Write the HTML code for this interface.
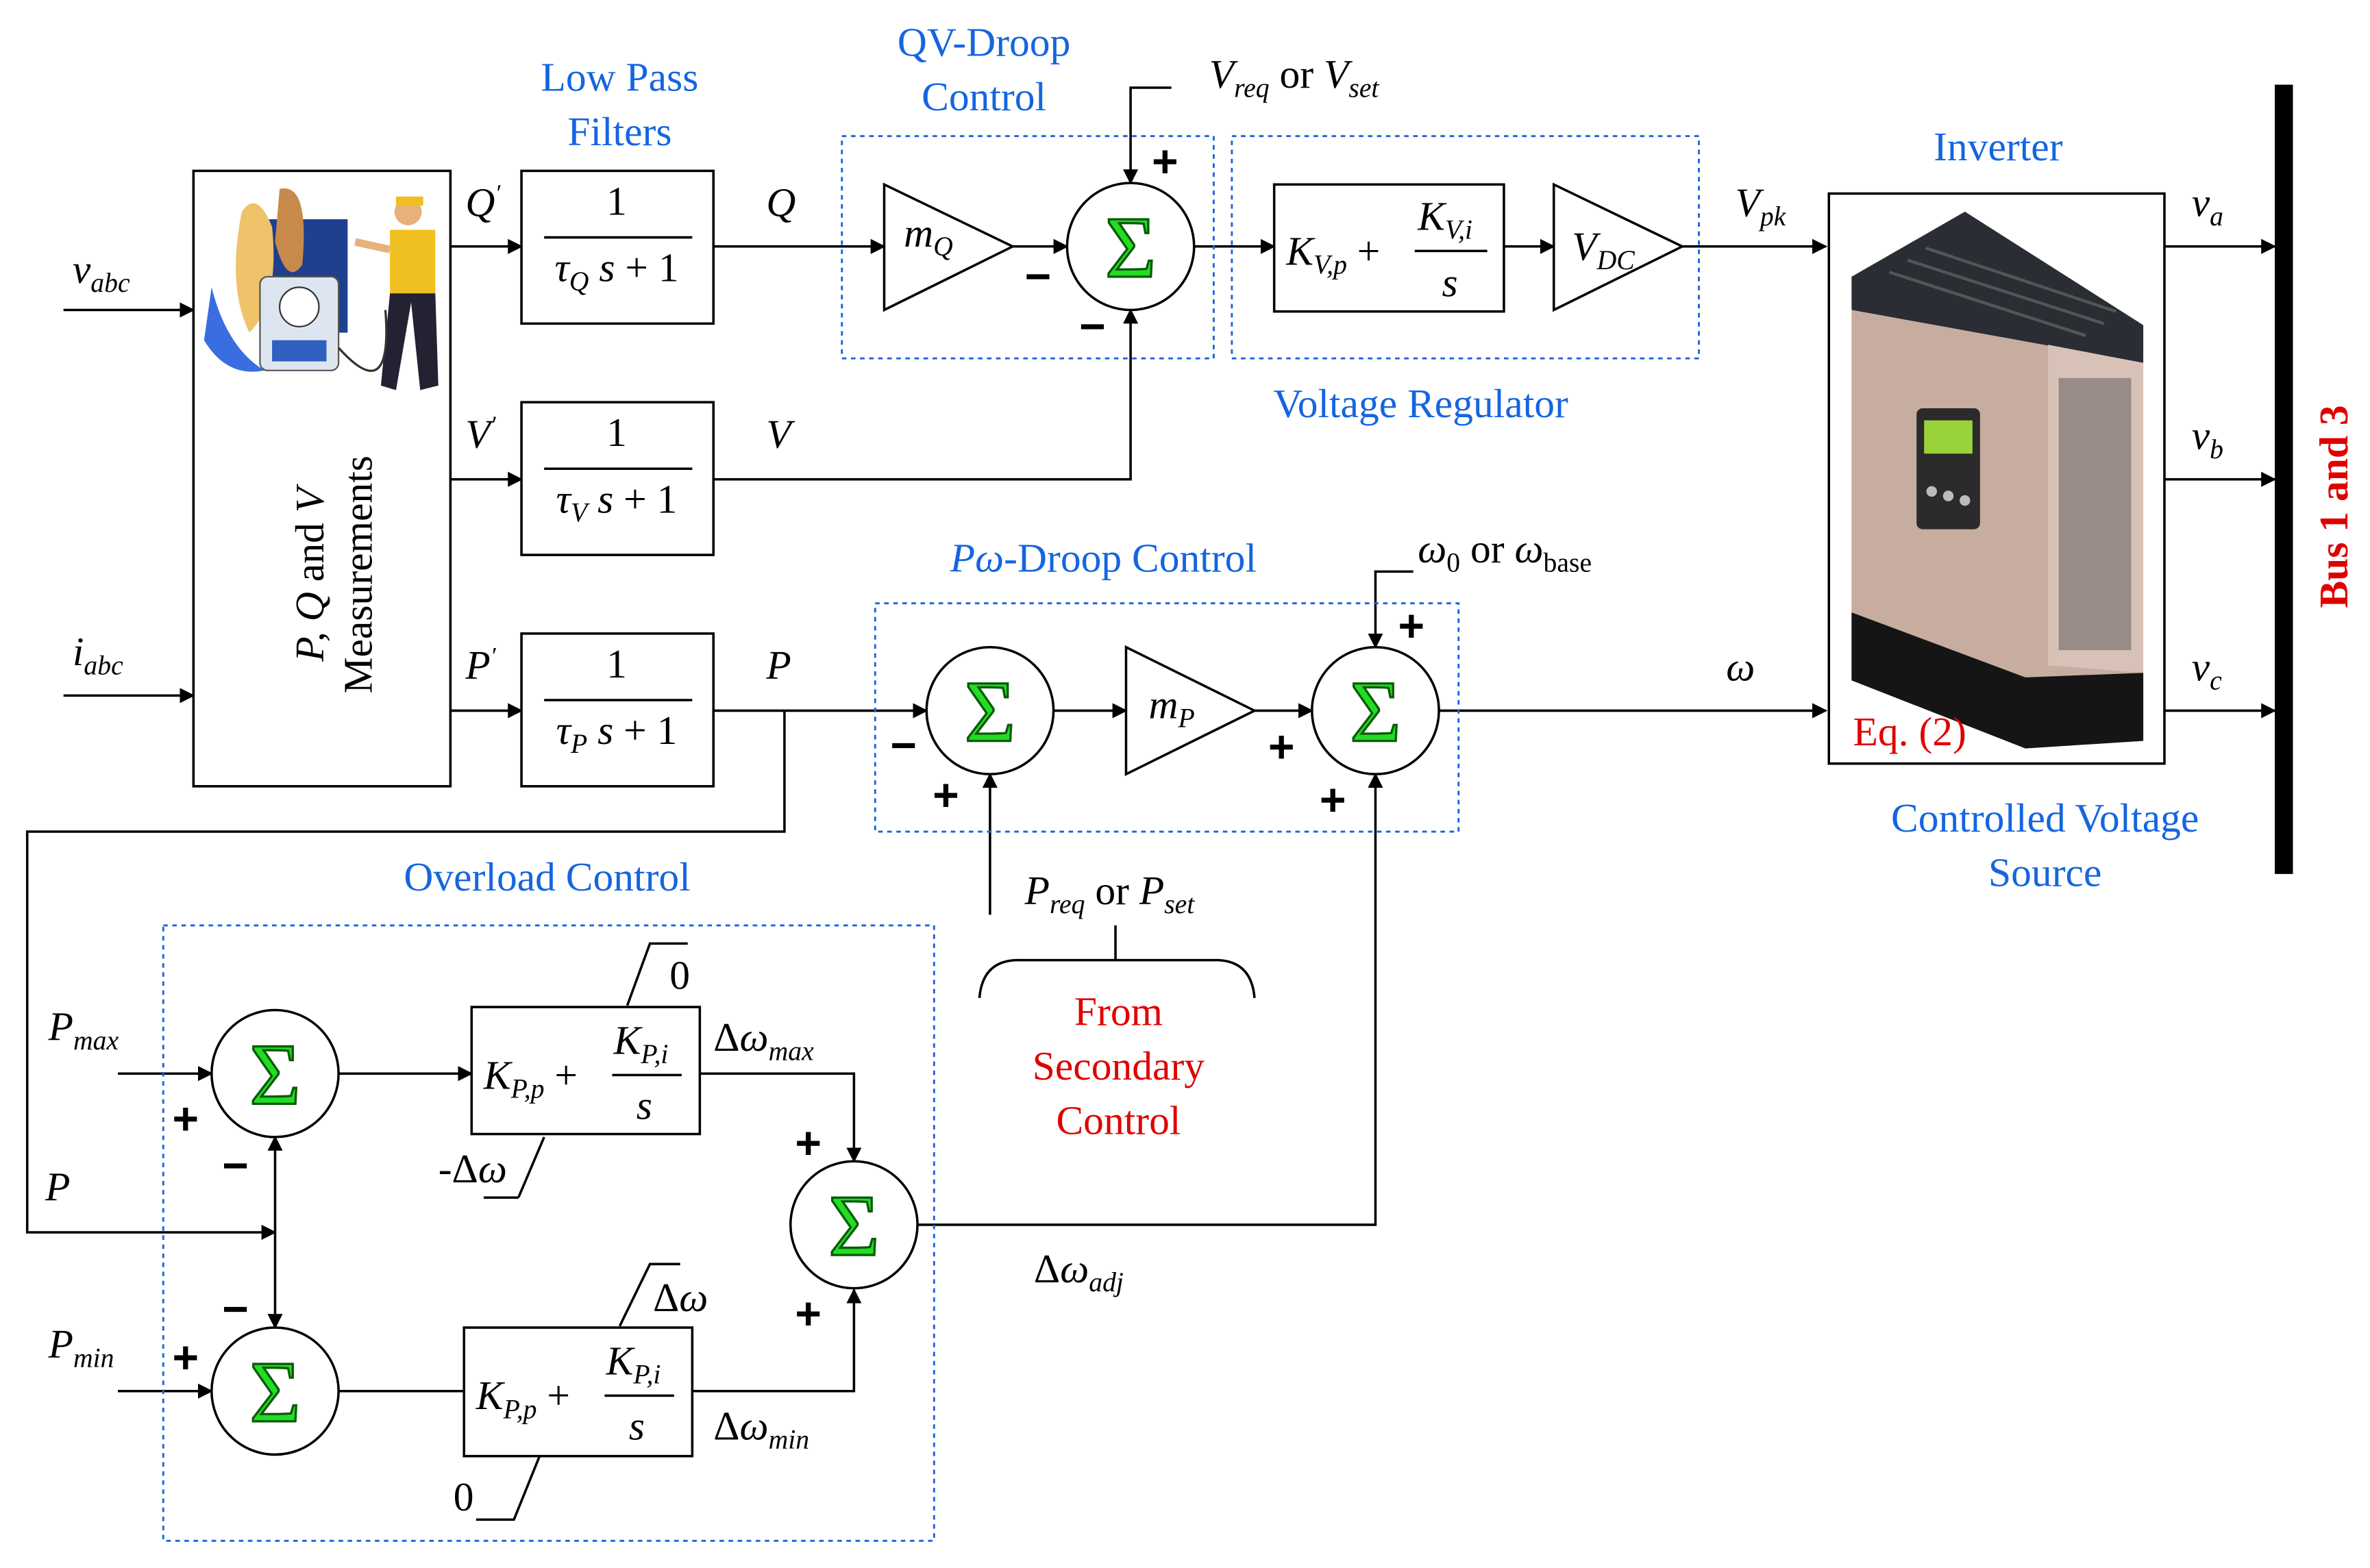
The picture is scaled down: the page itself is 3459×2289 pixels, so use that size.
<!DOCTYPE html>
<html><head><meta charset="utf-8"><style>
html,body{margin:0;padding:0;background:#fff;}
svg{display:block;}
text{font-family:"Liberation Serif",serif;}
.b{fill:#1565e0;font-size:27px;}
.r{fill:#e00000;font-size:27px;}
.t{font-size:27px;fill:#000;}
.i{font-style:italic;}
.s{font-size:18px;}
.sg{font-family:"Liberation Sans",sans-serif;font-size:30px;font-weight:bold;fill:#000;}
</style></head><body>
<svg width="3459" height="2289" viewBox="0 0 1568 1037" preserveAspectRatio="none" xmlns="http://www.w3.org/2000/svg">
<defs>
<marker id="a" markerWidth="10" markerHeight="10" refX="9" refY="5" orient="auto" markerUnits="userSpaceOnUse" viewBox="0 0 10 10"><path d="M0,0 L10,5 L0,10 z" fill="#000"/></marker>
<g id="sig"><circle r="42" fill="#fff" stroke="#000" stroke-width="1.6"/><text x="0" y="20" text-anchor="middle" font-family="Liberation Serif,serif" font-size="58" fill="#22dd22" stroke="#0a5a0a" stroke-width="1.5">Σ</text></g>
</defs>
<g fill="none" stroke="#000" stroke-width="1.6">
<rect x="128" y="113" width="170" height="407"/>
<line x1="42" y1="205" x2="128" y2="205" marker-end="url(#a)"/>
<line x1="42" y1="460" x2="128" y2="460" marker-end="url(#a)"/>
<rect x="345" y="113" width="127" height="101"/>
<rect x="345" y="266" width="127" height="101"/>
<rect x="345" y="419" width="127" height="101"/>
<line x1="360" y1="157" x2="458" y2="157"/><line x1="360" y1="310" x2="458" y2="310"/><line x1="360" y1="463" x2="458" y2="463"/>
<line x1="298" y1="163" x2="345" y2="163" marker-end="url(#a)"/>
<line x1="298" y1="317" x2="345" y2="317" marker-end="url(#a)"/>
<line x1="298" y1="470" x2="345" y2="470" marker-end="url(#a)"/>
<line x1="472" y1="163" x2="585" y2="163" marker-end="url(#a)"/>
<polygon points="585,122 670,163 585,205"/>
<line x1="670" y1="163" x2="706" y2="163" marker-end="url(#a)"/>
<polyline points="472,317 748,317 748,205" marker-end="url(#a)"/>
<polyline points="775,58 748,58 748,121" marker-end="url(#a)"/>
<line x1="790" y1="163" x2="843" y2="163" marker-end="url(#a)"/>
<rect x="843" y="122" width="152" height="84"/>
<line x1="936" y1="166" x2="984" y2="166"/>
<line x1="995" y1="163" x2="1028" y2="163" marker-end="url(#a)"/>
<polygon points="1028,122 1113,163 1028,205"/>
<line x1="1113" y1="163" x2="1208" y2="163" marker-end="url(#a)"/>
<rect x="1210" y="128" width="222" height="377"/>
<line x1="1432" y1="163" x2="1505" y2="163" marker-end="url(#a)"/>
<line x1="1432" y1="317" x2="1505" y2="317" marker-end="url(#a)"/>
<line x1="1432" y1="470" x2="1505" y2="470" marker-end="url(#a)"/>
<line x1="472" y1="470" x2="613" y2="470" marker-end="url(#a)"/>
<line x1="655" y1="605" x2="655" y2="512" marker-end="url(#a)"/>
<line x1="697" y1="470" x2="745" y2="470" marker-end="url(#a)"/>
<polygon points="745,428 830,470 745,512"/>
<line x1="830" y1="470" x2="868" y2="470" marker-end="url(#a)"/>
<polyline points="935,378 910,378 910,428" marker-end="url(#a)"/>
<line x1="952" y1="470" x2="1208" y2="470" marker-end="url(#a)"/>
<line x1="738" y1="612" x2="738" y2="635"/>
<path d="M648,660 Q650,636 672,635 L806,635 Q828,636 830,660"/>
<polyline points="519,470 519,550 18,550 18,815 182,815" marker-end="url(#a)"/>
<line x1="78" y1="710" x2="140" y2="710" marker-end="url(#a)"/>
<line x1="78" y1="920" x2="140" y2="920" marker-end="url(#a)"/>
<line x1="182" y1="815" x2="182" y2="752" marker-end="url(#a)"/>
<line x1="182" y1="815" x2="182" y2="878" marker-end="url(#a)"/>
<line x1="224" y1="710" x2="312" y2="710" marker-end="url(#a)"/>
<rect x="312" y="666" width="151" height="84"/>
<line x1="405" y1="711" x2="451" y2="711"/>
<polyline points="415,665 430,624 455,624"/>
<polyline points="343,792 360,752"/>
<line x1="320" y1="792" x2="343" y2="792"/>
<polyline points="463,710 565,710 565,768" marker-end="url(#a)"/>
<line x1="224" y1="920" x2="307" y2="920"/>
<rect x="307" y="878" width="151" height="85"/>
<line x1="400" y1="923" x2="446" y2="923"/>
<polyline points="410,877 430,836 450,836"/>
<polyline points="315,1005 340,1005 357,963"/>
<polyline points="458,920 565,920 565,853" marker-end="url(#a)"/>
<polyline points="607,810 910,810 910,512" marker-end="url(#a)"/>
</g>
<g fill="none" stroke="#1565e0" stroke-width="1.3" stroke-dasharray="3,3">
<rect x="557" y="90" width="246" height="147"/>
<rect x="815" y="90" width="309" height="147"/>
<rect x="579" y="399" width="386" height="151"/>
<rect x="108" y="612" width="510" height="407"/>
</g>
<use href="#sig" x="748" y="163"/>
<use href="#sig" x="655" y="470"/>
<use href="#sig" x="910" y="470"/>
<use href="#sig" x="182" y="710"/>
<use href="#sig" x="182" y="920"/>
<use href="#sig" x="565" y="810"/>
<rect x="1505" y="56" width="12" height="522" fill="#000"/>
<text x="1553" y="335" transform="rotate(-90 1553 335)" text-anchor="middle" fill="#e00000" font-size="27" font-weight="bold">Bus 1 and 3</text>
<g>
<rect x="175" y="145" width="55" height="75" fill="#1f3f8f"/>
<path d="M160,140 Q170,125 180,150 Q185,200 165,220 Q150,190 160,140z" fill="#f0c26a"/>
<path d="M185,125 Q205,120 200,175 Q190,190 182,160z" fill="#c88a4a"/>
<path d="M140,190 Q150,230 175,245 Q150,250 135,225z" fill="#3a6de0"/>
<rect x="172" y="183" width="52" height="62" rx="5" fill="#dde6f0" stroke="#555"/>
<circle cx="198" cy="203" r="13" fill="#fff" stroke="#333"/>
<rect x="180" y="225" width="36" height="14" fill="#3060c0"/>
<circle cx="270" cy="140" r="9" fill="#e8b07a"/>
<rect x="262" y="130" width="18" height="6" fill="#f0c020"/>
<rect x="258" y="152" width="30" height="42" fill="#f0c020"/>
<path d="M258,194 L252,255 L262,258 L272,200 L278,258 L290,255 L288,194z" fill="#223"/>
<line x1="235" y1="160" x2="258" y2="165" stroke="#e8b07a" stroke-width="5"/>
<path d="M224,230 Q260,270 255,205" fill="none" stroke="#333" stroke-width="1.5"/>
</g>
<g>
<polygon points="1225,183 1300,140 1418,215 1418,240 1225,205" fill="#2a2d33"/>
<g stroke="#555" stroke-width="2"><line x1="1250" y1="180" x2="1380" y2="222"/><line x1="1262" y1="172" x2="1392" y2="214"/><line x1="1274" y1="164" x2="1400" y2="206"/></g>
<polygon points="1225,205 1418,240 1418,490 1340,480 1225,445" fill="#c7aca0"/>
<polygon points="1355,228 1418,240 1418,445 1355,440" fill="#d8c2b8"/>
<polygon points="1225,405 1340,448 1418,445 1418,490 1340,495 1225,450" fill="#151515"/>
<rect x="1362" y="250" width="48" height="180" fill="#555" opacity="0.5"/>
<rect x="1268" y="270" width="42" height="80" rx="4" fill="#2b2b2b"/>
<rect x="1273" y="278" width="32" height="22" fill="#9ad23c"/>
<circle cx="1278" cy="325" r="3.5" fill="#bbb"/><circle cx="1289" cy="328" r="3.5" fill="#bbb"/><circle cx="1300" cy="331" r="3.5" fill="#bbb"/>
</g>
<text class="t i" x="48" y="187">v<tspan class="s" dy="6">abc</tspan></text>
<text class="t i" x="48" y="440">i<tspan class="s" dy="6">abc</tspan></text>
<text class="t" x="230" y="380" transform="rotate(-90 230 380)" text-anchor="middle"><tspan x="230" dy="-16"><tspan class="i">P, Q</tspan> and <tspan class="i">V</tspan></tspan><tspan x="230" dy="32">Measurements</tspan></text>
<text class="t i" x="308" y="143">Q<tspan font-size="16" dy="-10">′</tspan></text>
<text class="t i" x="308" y="296">V<tspan font-size="16" dy="-10">′</tspan></text>
<text class="t i" x="308" y="449">P<tspan font-size="16" dy="-10">′</tspan></text>
<text class="t" x="408" y="142" text-anchor="middle">1</text>
<text class="t" x="408" y="295" text-anchor="middle">1</text>
<text class="t" x="408" y="448" text-anchor="middle">1</text>
<text class="t" x="408" y="186" text-anchor="middle"><tspan class="i">τ<tspan class="s" dy="6">Q</tspan><tspan dy="-6"> s</tspan></tspan> + 1</text>
<text class="t" x="408" y="339" text-anchor="middle"><tspan class="i">τ<tspan class="s" dy="6">V</tspan><tspan dy="-6"> s</tspan></tspan> + 1</text>
<text class="t" x="408" y="492" text-anchor="middle"><tspan class="i">τ<tspan class="s" dy="6">P</tspan><tspan dy="-6"> s</tspan></tspan> + 1</text>
<text class="t i" x="507" y="143">Q</text>
<text class="t i" x="507" y="296">V</text>
<text class="t i" x="507" y="449">P</text>
<text class="b" x="410" y="60" text-anchor="middle">Low Pass</text>
<text class="b" x="410" y="96" text-anchor="middle">Filters</text>
<text class="b" x="651" y="37" text-anchor="middle">QV-Droop</text>
<text class="b" x="651" y="73" text-anchor="middle">Control</text>
<text class="t i" x="598" y="163">m<tspan class="s" dy="6">Q</tspan></text>
<text class="t i" x="800" y="58">V<tspan class="s" dy="6">req</tspan><tspan dy="-6" font-style="normal"> or </tspan>V<tspan class="s" dy="6">set</tspan></text>
<text class="sg" x="762" y="117">+</text>
<text class="sg" x="678" y="193">−</text>
<text class="sg" x="714" y="226">−</text>
<text class="t i" x="851" y="175">K<tspan class="s" dy="6">V,p</tspan><tspan dy="-6" font-style="normal"> +</tspan></text>
<text class="t i" x="938" y="152">K<tspan class="s" dy="6">V,i</tspan></text>
<text class="t i" x="954" y="196">s</text>
<text class="t i" x="1040" y="172">V<tspan class="s" dy="6">DC</tspan></text>
<text class="t i" x="1148" y="143">V<tspan class="s" dy="6">pk</tspan></text>
<text class="b" x="940" y="276" text-anchor="middle">Voltage Regulator</text>
<text class="b" x="1322" y="106" text-anchor="middle">Inverter</text>
<text class="r" x="1226" y="493">Eq. (2)</text>
<text class="b" x="1353" y="550" text-anchor="middle">Controlled Voltage</text>
<text class="b" x="1353" y="586" text-anchor="middle">Source</text>
<text class="t i" x="1450" y="143">v<tspan class="s" dy="6">a</tspan></text>
<text class="t i" x="1450" y="297">v<tspan class="s" dy="6">b</tspan></text>
<text class="t i" x="1450" y="450">v<tspan class="s" dy="6">c</tspan></text>
<text class="b" x="730" y="378" text-anchor="middle"><tspan class="i">Pω</tspan>-Droop Control</text>
<text class="t i" x="938" y="372">ω<tspan class="s" dy="6" font-style="normal">0</tspan><tspan dy="-6" font-style="normal"> or </tspan>ω<tspan class="s" dy="6" font-style="normal">base</tspan></text>
<text class="sg" x="589" y="503">−</text>
<text class="sg" x="617" y="536">+</text>
<text class="t i" x="760" y="475">m<tspan class="s" dy="6">P</tspan></text>
<text class="sg" x="925" y="424">+</text>
<text class="sg" x="839" y="504">+</text>
<text class="sg" x="873" y="539">+</text>
<text class="t i" x="1142" y="450">ω</text>
<text class="t i" x="678" y="598">P<tspan class="s" dy="6">req</tspan><tspan dy="-6" font-style="normal"> or </tspan>P<tspan class="s" dy="6">set</tspan></text>
<text class="r" x="740" y="678" text-anchor="middle">From</text>
<text class="r" x="740" y="714" text-anchor="middle">Secondary</text>
<text class="r" x="740" y="750" text-anchor="middle">Control</text>
<text class="b" x="362" y="589" text-anchor="middle">Overload Control</text>
<text class="t i" x="32" y="688">P<tspan class="s" dy="6">max</tspan></text>
<text class="t i" x="30" y="794">P</text>
<text class="t i" x="32" y="898">P<tspan class="s" dy="6">min</tspan></text>
<text class="sg" x="114" y="750">+</text>
<text class="sg" x="147" y="781">−</text>
<text class="sg" x="147" y="876">−</text>
<text class="sg" x="114" y="908">+</text>
<text class="t i" x="320" y="720">K<tspan class="s" dy="6">P,p</tspan><tspan dy="-6" font-style="normal"> +</tspan></text>
<text class="t i" x="406" y="697">K<tspan class="s" dy="6">P,i</tspan></text>
<text class="t i" x="421" y="740">s</text>
<text class="t" x="443" y="654">0</text>
<text class="t" x="290" y="782">-Δ<tspan class="i">ω</tspan></text>
<text class="t" x="472" y="695">Δ<tspan class="i">ω<tspan class="s" dy="6">max</tspan></tspan></text>
<text class="t i" x="315" y="932">K<tspan class="s" dy="6">P,p</tspan><tspan dy="-6" font-style="normal"> +</tspan></text>
<text class="t i" x="401" y="909">K<tspan class="s" dy="6">P,i</tspan></text>
<text class="t i" x="416" y="952">s</text>
<text class="t" x="432" y="867">Δ<tspan class="i">ω</tspan></text>
<text class="t" x="300" y="999">0</text>
<text class="t" x="472" y="952">Δ<tspan class="i">ω<tspan class="s" dy="6">min</tspan></tspan></text>
<text class="sg" x="526" y="766">+</text>
<text class="sg" x="526" y="879">+</text>
<text class="t" x="684" y="848">Δ<tspan class="i">ω<tspan class="s" dy="6">adj</tspan></tspan></text>
</svg>
</body></html>
